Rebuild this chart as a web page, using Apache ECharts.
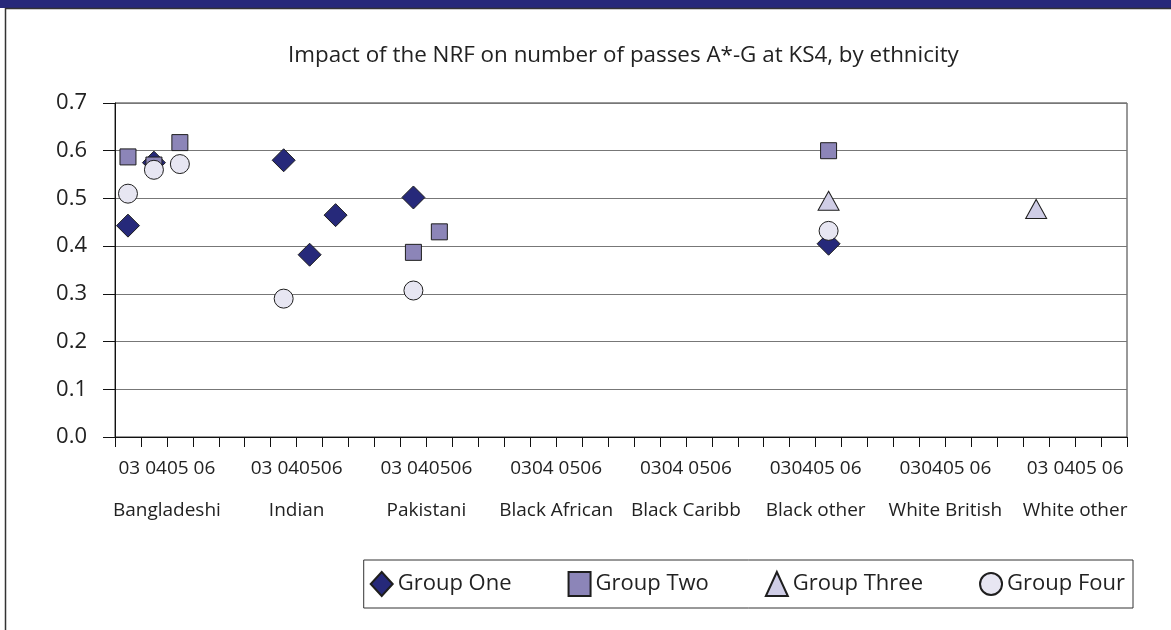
<!DOCTYPE html>
<html><head><meta charset="utf-8">
<script src="https://cdn.jsdelivr.net/npm/echarts@6/dist/echarts.min.js"></script>
<style>html,body{margin:0;padding:0;background:#fff}#c{width:1171px;height:630px}</style>
</head><body><div id="c"></div>
<script>
// ---- data ----
const groups = ['Bangladeshi','Indian','Pakistani','Black African','Black Caribb','Black other','White British','White other'];
const years = ['03','04','05','06'];
const yearLabels = ['03 0405 06','03 040506','03 040506','0304 0506','0304 0506','030405 06','030405 06','03 0405 06'];
const yTickLabels = ['0.0','0.1','0.2','0.3','0.4','0.5','0.6','0.7'];
// [group, year, value]
const groupOne = [['Bangladeshi','03',0.443],['Bangladeshi','04',0.575],['Indian','04',0.580],['Indian','05',0.382],['Indian','06',0.465],['Pakistani','04',0.502],['Black other','05',0.405]];
const groupTwo = [['Bangladeshi','03',0.587],['Bangladeshi','04',0.570],['Bangladeshi','05',0.617],['Pakistani','04',0.387],['Pakistani','05',0.430],['Black other','05',0.600]];
const groupThree = [['Black other','05',0.495],['White other','03',0.478]];
const groupFour = [['Bangladeshi','03',0.510],['Bangladeshi','04',0.560],['Bangladeshi','05',0.572],['Indian','04',0.290],['Pakistani','04',0.307],['Black other','05',0.432]];

// ---- build ----
const FONT = 'Open Sans';
const cats = [];
groups.forEach((g,gi)=>{ years.forEach(y=>cats.push(g+' '+y)); if(gi<groups.length-1) cats.push('gap'+gi); });
const toPts = arr => arr.map(([g,y,v]) => [groups.indexOf(g)*5 + years.indexOf(y), v]);

const GL = 115, GR = 1171-1127, GT = 103, GB = 630-437;
const slot = (1127-115)/cats.length;
const g2L = GL + slot*2 - slot*2.5, g2W = slot*5*groups.length;

const chart = echarts.init(document.getElementById('c'));
const edge = '#1e1e1e';
chart.setOption({
  animation:false,
  textStyle:{fontFamily:FONT},
  title:{text:'Impact of the NRF on number of passes A*-G at KS4, by ethnicity', left:283, top:40,
    textStyle:{fontFamily:FONT,fontSize:22.4,fontWeight:'normal',color:'#222'}},
  graphic:[
    {type:'rect',shape:{x:0,y:0,width:1171,height:8},style:{fill:'#27297a'}},
    {type:'line',shape:{x1:5,y1:8.5,x2:1171,y2:8.5},style:{stroke:'#333',lineWidth:1.5}},
    {type:'line',shape:{x1:5.5,y1:8,x2:5.5,y2:630},style:{stroke:'#333',lineWidth:1.5}}
  ],
  grid:[
    {left:GL,right:GR,top:GT,bottom:GB,show:true,borderColor:'#333',borderWidth:1},
    {left:g2L,width:g2W,top:GT,bottom:GB}
  ],
  xAxis:[
    {type:'category',gridIndex:0,data:cats,boundaryGap:true,
     axisLine:{lineStyle:{color:'#111',width:1}},
     axisTick:{show:true,interval:0,length:10,lineStyle:{color:'#111'}},
     axisLabel:{show:false},splitLine:{show:false}},
    {type:'category',gridIndex:1,data:groups,boundaryGap:true,
     axisLine:{show:false},axisTick:{show:false},
     axisLabel:{interval:0,margin:11,color:'#222',
       formatter:(v,i)=>'{y|'+yearLabels[i]+'}\n{g|'+v+'}',
       rich:{y:{fontFamily:FONT,fontSize:19,lineHeight:42,color:'#222'},g:{fontFamily:FONT,fontSize:19,lineHeight:42,color:'#222'}}}}
  ],
  yAxis:[
    {type:'value',gridIndex:0,min:0,max:0.7,interval:0.1,
     axisLine:{show:true,lineStyle:{color:'#111'}},
     axisTick:{show:true,length:12,lineStyle:{color:'#111'}},
     axisLabel:{margin:28,fontFamily:FONT,fontSize:22,color:'#222',formatter:v=>yTickLabels[Math.round(v*10)]},
     splitLine:{show:true,lineStyle:{color:'#777',width:1}}},
    {type:'value',gridIndex:1,min:0,max:0.7,show:false,splitLine:{show:false}}
  ],
  legend:{right:38,bottom:22,orient:'horizontal',itemGap:56,itemWidth:22,itemHeight:24,
    padding:[11,8,11,6],borderColor:'#333',borderWidth:1,
    textStyle:{fontFamily:FONT,fontSize:22,color:'#222'},
    data:['Group One','Group Two','Group Three','Group Four']},
  series:[
    {name:'Group One',type:'scatter',xAxisIndex:0,yAxisIndex:0,symbol:'diamond',symbolSize:23,
     itemStyle:{color:'#26297a',borderColor:edge,borderWidth:1,opacity:1},data:toPts(groupOne)},
    {name:'Group Two',type:'scatter',xAxisIndex:0,yAxisIndex:0,symbol:'rect',symbolSize:16,
     itemStyle:{color:'#8c85b8',borderColor:edge,borderWidth:1,opacity:1},data:toPts(groupTwo)},
    {name:'Group Three',type:'scatter',xAxisIndex:0,yAxisIndex:0,symbol:'triangle',symbolSize:[21,19],
     itemStyle:{color:'#cfcde6',borderColor:edge,borderWidth:1,opacity:1},data:toPts(groupThree)},
    {name:'Group Four',type:'scatter',xAxisIndex:0,yAxisIndex:0,symbol:'circle',symbolSize:19,
     itemStyle:{color:'#e7e6f2',borderColor:edge,borderWidth:1,opacity:1},data:toPts(groupFour)}
  ]
});
</script></body></html>
